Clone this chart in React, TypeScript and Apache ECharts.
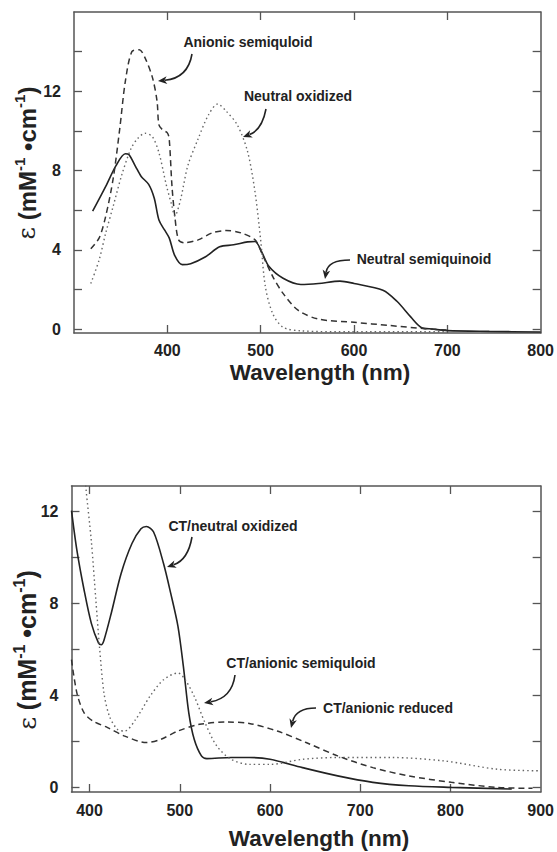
import React, { useEffect, useRef } from "react";
import * as echarts from "echarts";

// ---------- Data (wavelength nm, epsilon mM^-1 cm^-1) ----------
const neutralSemiquinoid: number[][] = [
  [320, 5.95], [334, 7.2], [345, 8.25], [355, 8.85], [359, 8.8], [366, 8.2], [372, 7.7],
  [380, 7.3], [386, 6.6], [391, 5.5], [397, 5.0], [402, 4.6], [408, 3.7], [416, 3.25],
  [425, 3.3], [441, 3.65], [456, 4.15], [471, 4.25], [486, 4.4], [494, 4.42], [501, 3.9],
  [509, 3.15], [524, 2.56], [543, 2.25], [562, 2.3], [585, 2.42], [600, 2.3], [631, 1.96],
  [646, 1.4], [661, 0.6], [672, 0.08], [684, 0], [700, -0.08], [745, -0.12], [800, -0.15],
];
const anionicSemiquinoid: number[][] = [
  [318, 4.05], [327, 4.6], [334, 5.7], [342, 7.6], [349, 10.1], [355, 12.5], [362, 14.0],
  [370, 14.1], [376, 13.7], [384, 12.7], [389, 11.5], [391, 10.3], [395, 10.05], [400, 9.9],
  [402, 9.6], [405, 7.2], [408, 5.7], [412, 4.5], [418, 4.35], [433, 4.5], [448, 4.85],
  [463, 4.97], [479, 4.85], [494, 4.5], [501, 3.85], [513, 2.65], [524, 1.8], [540, 0.95],
  [562, 0.5], [600, 0.34], [638, 0.18], [676, 0.02], [700, -0.05],
];
const neutralOxidized: number[][] = [
  [318, 2.3], [327, 3.5], [334, 4.85], [342, 6.2], [351, 7.75], [361, 9.1], [368, 9.6],
  [376, 9.88], [384, 9.7], [391, 8.9], [399, 7.25], [405, 6.2], [408, 5.7], [414, 6.5],
  [422, 8.25], [433, 9.6], [444, 10.8], [454, 11.36], [463, 11.0], [475, 10.3], [486, 8.95],
  [494, 6.9], [500, 4.5], [505, 2.15], [513, 0.77], [524, 0.09], [543, -0.09], [600, -0.14],
  [700, -0.14],
];

const ctNeutralOxidized: number[][] = [
  [380, 12.03], [386, 10.3], [394, 8.57], [402, 7.13], [410, 6.27], [413, 6.2], [416, 6.4],
  [424, 7.56], [435, 9.3], [447, 10.6], [457, 11.24], [463, 11.34], [471, 11.1], [482, 9.73],
  [490, 8.43], [498, 7.0], [504, 5.26], [510, 3.24], [516, 2.09], [524, 1.37], [530, 1.25],
  [557, 1.3], [577, 1.3], [600, 1.22], [636, 0.86], [675, 0.5], [714, 0.22], [754, 0.07],
  [801, 0], [868, -0.07],
];
const ctAnionicSemiquinoid: number[][] = [
  [393, 14.5], [396, 13.0], [402, 10.7], [407, 8.14], [411, 6.12], [416, 4.1], [422, 3.1],
  [431, 2.52], [439, 2.45], [451, 2.95], [467, 3.96], [482, 4.68], [498, 4.97], [506, 4.68],
  [516, 3.96], [528, 2.81], [541, 1.8], [557, 1.22], [577, 1.0], [600, 1.0], [636, 1.22],
  [675, 1.3], [734, 1.3], [793, 1.15], [852, 0.79], [900, 0.72],
];
const ctAnionicReduced: number[][] = [
  [380, 5.55], [386, 4.1], [394, 3.24], [404, 2.88], [420, 2.6], [439, 2.23], [463, 1.95],
  [479, 2.09], [498, 2.45], [522, 2.74], [553, 2.84], [577, 2.78], [608, 2.45], [640, 1.95],
  [675, 1.37], [714, 0.86], [754, 0.5], [801, 0.22], [852, 0], [891, -0.04],
];

// ---------- Tick values ----------
const topXTicks = [400, 500, 600, 700];
const topXLabels = [400, 500, 600, 700, 800];
const topYTicks = [0, 2, 4, 6, 8, 10, 12, 14];
const topYLabels = [0, 4, 8, 12];
const botXTicks = [400, 500, 600, 700, 800];
const botXLabels = [400, 500, 600, 700, 800, 900];
const botYTicks = [0, 2, 4, 6, 8, 10, 12];
const botYLabels = [0, 4, 8, 12];

const FONT = "'Liberation Sans', Arial, Helvetica, sans-serif";
const AX = "#555";
const INK = "#222";

function xAxis(grid: number, position: string, min: number, max: number, ticks: number[], labels: number[] | null, margin = 9) {
  return {
    type: "value", gridIndex: grid, position, min, max,
    axisLine: { show: true, onZero: false, lineStyle: { color: AX, width: 1.5 } },
    axisTick: { show: true, inside: true, length: 8, customValues: ticks, lineStyle: { color: AX, width: 1.3 } },
    axisLabel: labels
      ? { show: true, customValues: labels, fontSize: 16, fontWeight: "bold", fontFamily: FONT, color: INK, margin }
      : { show: false },
    splitLine: { show: false },
  };
}
function yAxis(grid: number, position: string, min: number, max: number, ticks: number[], labels: number[] | null) {
  return {
    type: "value", gridIndex: grid, position, min, max,
    axisLine: { show: true, onZero: false, lineStyle: { color: AX, width: 1.5 } },
    axisTick: { show: true, inside: true, length: 8, customValues: ticks, lineStyle: { color: AX, width: 1.3 } },
    axisLabel: labels
      ? { show: true, customValues: labels, fontSize: 16, fontWeight: "bold", fontFamily: FONT, color: INK, margin: 13 }
      : { show: false },
    splitLine: { show: false },
  };
}

function line(data: number[][], xi: number, yi: number, kind: "solid" | "dashed" | "dotted") {
  const ls: any =
    kind === "solid"
      ? { color: "#222", width: 1.6, type: "solid" }
      : kind === "dashed"
      ? { color: "#333", width: 1.5, type: [6, 4] }
      : { color: "#666", width: 1.4, type: [1.5, 3] };
  return {
    type: "line", xAxisIndex: xi, yAxisIndex: yi, data, showSymbol: false, symbol: "none",
    smooth: 0.3, lineStyle: ls, clip: true, silent: true,
  };
}

function label(text: string, x: number, y: number) {
  return {
    type: "text", x, y,
    style: { text, fontSize: 14, fontWeight: "bold", fontFamily: FONT, fill: INK, align: "center", verticalAlign: "middle" },
  };
}

function arrow(sx: number, sy: number, cx: number, cy: number, ex: number, ey: number) {
  const dx = ex - cx, dy = ey - cy;
  const L = Math.hypot(dx, dy);
  const ux = dx / L, uy = dy / L;
  const len = 9, w = 3.8;
  const bx = ex - ux * len, by = ey - uy * len;
  return [
    {
      type: "bezierCurve",
      shape: { x1: sx, y1: sy, x2: bx + ux * 2, y2: by + uy * 2, cpx1: cx, cpy1: cy },
      style: { stroke: INK, lineWidth: 1.6, fill: null },
    },
    {
      type: "polygon",
      shape: { points: [[ex, ey], [bx - uy * w, by + ux * w], [bx + ux * 2.5, by + uy * 2.5], [bx + uy * w, by - ux * w]] },
      style: { fill: INK },
    },
  ];
}

function yTitle(x: number, y: number, size: number) {
  return {
    type: "text", x, y, rotation: Math.PI / 2,
    style: {
      text: "{e|ε}  {a|(mM}{s|-1}{a| •cm}{s|-1}{a|)}",
      align: "center", verticalAlign: "middle", fill: INK,
      rich: {
        e: { fontFamily: "'DejaVu Serif', serif", fontSize: size, fontWeight: "normal", fill: INK, lineHeight: size + 6 },
        a: { fontFamily: FONT, fontSize: size, fontWeight: "bold", fill: INK, lineHeight: size + 6 },
        s: { fontFamily: FONT, fontSize: Math.round(size * 0.62), fontWeight: "bold", fill: INK, verticalAlign: "top", lineHeight: size + 6 },
      },
    },
  };
}

function xTitle(x: number, y: number) {
  return {
    type: "text", x, y,
    style: { text: "Wavelength (nm)", fontSize: 22.5, fontWeight: "bold", fontFamily: FONT, fill: INK, align: "center", verticalAlign: "middle" },
  };
}

export default function App() {
  const ref = useRef<HTMLDivElement>(null);
  useEffect(() => {
    if (!ref.current) return;
    const chart = echarts.init(ref.current, null, { renderer: "svg" });
    const option: any = {
      animation: false,
      backgroundColor: "#fff",
      grid: [
        { left: 74, top: 12, right: 16, bottom: 519 },
        { left: 71.5, top: 486, right: 16, bottom: 60 },
      ],
      xAxis: [
        xAxis(0, "bottom", 300, 800, topXTicks, topXLabels, 9),
        xAxis(0, "top", 300, 800, topXTicks, null),
        xAxis(1, "bottom", 380, 900, botXTicks, botXLabels, 10),
        xAxis(1, "top", 380, 900, botXTicks, null),
      ],
      yAxis: [
        yAxis(0, "left", -0.2, 16, topYTicks, topYLabels),
        yAxis(0, "right", -0.2, 16, topYTicks, null),
        yAxis(1, "left", -0.2, 13.1, botYTicks, botYLabels),
        yAxis(1, "right", -0.2, 13.1, botYTicks, null),
      ],
      series: [
        line(neutralSemiquinoid, 0, 0, "solid"),
        line(anionicSemiquinoid, 0, 0, "dashed"),
        line(neutralOxidized, 0, 0, "dotted"),
        line(ctNeutralOxidized, 2, 2, "solid"),
        line(ctAnionicSemiquinoid, 2, 2, "dotted"),
        line(ctAnionicReduced, 2, 2, "dashed"),
      ],
      graphic: [
        label("Anionic semiquloid", 248, 42),
        ...arrow(192, 54, 188, 78, 158, 81),
        label("Neutral oxidized", 298, 96),
        ...arrow(266, 109, 262, 130, 243, 137),
        label("Neutral semiquinoid", 424, 259),
        ...arrow(350, 260, 328, 260, 325, 279),
        label("CT/neutral oxidized", 233, 526),
        ...arrow(192, 537, 188, 560, 167, 567),
        label("CT/anionic semiquloid", 301, 663),
        ...arrow(235, 675, 232, 698, 204, 703),
        label("CT/anionic reduced", 388, 708),
        ...arrow(316, 708, 296, 708, 291, 728),
        xTitle(320, 372),
        xTitle(319, 838),
        yTitle(27, 163, 24),
        yTitle(27, 650, 25),
      ],
    };
    chart.setOption(option);
    return () => chart.dispose();
  }, []);
  return (
    <div
      ref={ref}
      style={{ position: "absolute", left: 0, top: 0, width: 557, height: 852, background: "#fff" }}
    />
  );
}
